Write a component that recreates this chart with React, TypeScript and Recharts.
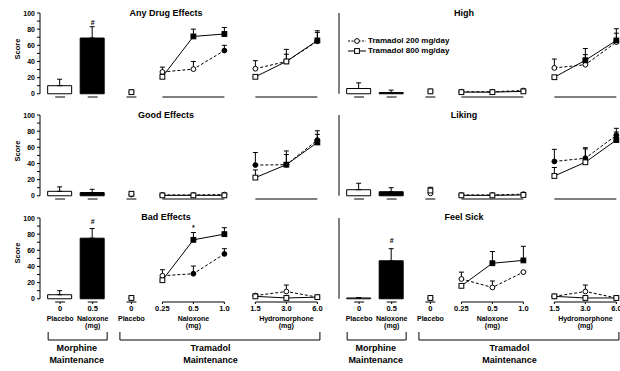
import React from "react";
import { ComposedChart, Bar, Cell, Line, XAxis, YAxis, ReferenceLine, ErrorBar, Legend } from "recharts";

const FONT = "'Liberation Sans', Arial, Helvetica, sans-serif";

// panels: left column top->bottom, then right column top->bottom
const titles = ["Any Drug Effects", "Good Effects", "Bad Effects", "High", "Liking", "Feel Sick"];

// x positions of the conditions on the broken axis
const barX = [0, 1.05];
const placeboX = 2.3;
const naloxoneX = [3.3, 4.3, 5.3];
const hydroX = [6.3, 7.3, 8.3];

const tickLabels = ["0", "0.5", "0", "0.25", "0.5", "1.0", "1.5", "3.0", "6.0"];
const tickSub1 = ["Placebo", "Naloxone", "Placebo", "", "Naloxone", "", "", "Hydromorphone", ""];
const tickSub2 = ["", "(mg)", "", "", "(mg)", "", "", "(mg)", ""];
const yTicks = [0, 10, 20, 30, 40, 50, 60, 70, 80, 90, 100];

// morphine maintenance: [placebo, naloxone 0.5 mg]
const morphineMean = [[10, 69], [5.5, 4], [5, 75], [6.5, 1.5], [7.5, 5], [1, 47]];
const morphineSem = [[8, 14], [5.5, 4], [5, 12], [7, 3], [8, 5], [0.5, 15]];

// tramadol maintenance placebo
const placebo200 = [2, 1.5, 1, 3, 3, 1];
const placebo800 = [2, 2.5, 1, 3, 6.5, 1];
const placebo800Sem = [0, 0, 0, 0, 4, 0];

// naloxone 0.25 / 0.5 / 1.0 mg
const naloxone200 = [[27, 30.5, 53.5], [1, 1, 1.5], [28.5, 31, 55.5], [2.5, 2.5, 4], [1, 1, 2], [24.5, 14, 33]];
const naloxone200Sem = [[6, 9.5, 6.5], [0, 0, 0], [7.5, 9.5, 6.5], [0, 0, 0], [0, 0, 0], [8.5, 8, 0]];
const naloxone200Sig = [[0, 0, 1], [0, 0, 0], [0, 1, 1], [0, 0, 0], [0, 0, 0], [0, 0, 0]];
const naloxone800 = [[21, 71, 74], [0.5, 0.5, 0.5], [23, 73, 80], [2, 2, 3], [0.5, 0.5, 1], [16, 44, 47.5]];
const naloxone800Sem = [[0, 9, 8], [0, 0, 0], [0, 9, 8], [0, 0, 0], [0, 0, 0], [0, 14.5, 17.5]];
const naloxone800Sig = [[0, 1, 1], [0, 0, 0], [0, 1, 1], [0, 0, 0], [0, 0, 0], [0, 1, 1]];

// hydromorphone 1.5 / 3.0 / 6.0 mg
const hydro200 = [[31, 40, 65], [38, 38.5, 69], [4, 9, 2], [32, 36, 64], [42.5, 46.5, 75], [3, 9, 1]];
const hydro200Sem = [[10, 15, 13], [15.5, 12.5, 11.5], [1.5, 8, 1], [11, 12.5, 11], [15, 13, 8.5], [0, 8, 0]];
const hydro200Sig = [[0, 0, 1], [1, 1, 1], [0, 0, 0], [0, 0, 0], [1, 1, 1], [0, 0, 0]];
const hydro800 = [[21, 40, 66], [22.5, 38.5, 66], [3, 1, 2], [20.5, 41.5, 66], [24.5, 41.5, 69], [3, 1, 1]];
const hydro800Sem = [[0, 9, 10], [9.5, 17, 10], [0, 0, 0], [0, 14.5, 14.5], [10.5, 16.5, 10], [0, 0, 0]];
const hydro800Sig = [[0, 0, 1], [0, 1, 1], [0, 0, 0], [0, 1, 1], [0, 0, 1], [0, 0, 0]];

// significance marks (# vs morphine placebo, * between tramadol doses)
const hashMark = [88, null, 96, null, null, 72];
const starMark = [null, null, 88, null, null, null];

const seriesNames = ["Tramadol 200 mg/day", "Tramadol 800 mg/day"];

const rowTop = [3, 105, 208];
const titleY = [13, 115, 217];
const txt = { fontFamily: FONT, fontWeight: 700, fill: "#000", stroke: "none", style: { fill: "#000" } } as const;

const circleDot = (filled: number[]) => (p: any) => (
  <circle key={`c${p.index}`} cx={p.cx} cy={p.cy} r={2.4} fill={filled[p.index] ? "#000" : "#fff"} stroke="#000" strokeWidth={1} />
);
const squareDot = (filled: number[]) => (p: any) => (
  <rect key={`s${p.index}`} x={p.cx - 2.4} y={p.cy - 2.4} width={4.8} height={4.8} fill={filled[p.index] ? "#000" : "#fff"} stroke="#000" strokeWidth={1} />
);
const markDot = (p: any) => (
  <text key={`m${p.index}`} x={p.cx} y={p.cy + 2.5} textAnchor="middle" fontSize={7} {...txt}>{p.payload.t}</text>
);

const XTick = (props: any) => {
  const { x, y, index } = props;
  return (
    <g opacity={0.99}>
      <text x={x} y={y + 7} textAnchor="middle" fontSize={7.5} {...txt}>{tickLabels[index]}</text>
      {tickSub1[index] && <text x={x} y={y + 16.5} textAnchor="middle" fontSize={7} {...txt}>{tickSub1[index]}</text>}
      {tickSub2[index] && <text x={x} y={y + 23.5} textAnchor="middle" fontSize={7} {...txt}>{tickSub2[index]}</text>}
      {index === 0 && (
        <g>
          <path d={`M${x - 12},${y + 28}V${y + 36}H${x + 47}V${y + 28}`} fill="none" stroke="#000" strokeWidth={1} />
          <text x={x + 16.5} y={y + 47.3} textAnchor="middle" fontSize={9} {...txt}>Morphine</text>
          <text x={x + 16.5} y={y + 59.3} textAnchor="middle" fontSize={9} {...txt}>Maintenance</text>
        </g>
      )}
      {index === 2 && (
        <g>
          <path d={`M${x - 11.5},${y + 28}V${y + 36}H${x + 188.5}V${y + 28}`} fill="none" stroke="#000" strokeWidth={1} />
          <text x={x + 79} y={y + 47.3} textAnchor="middle" fontSize={9} {...txt}>Tramadol</text>
          <text x={x + 79} y={y + 59.3} textAnchor="middle" fontSize={9} {...txt}>Maintenance</text>
        </g>
      )}
    </g>
  );
};

const YTick = ({ x, y, payload }: any) =>
  payload.value % 20 === 0 ? (
    <g opacity={0.99}>
      <text x={x} y={y + 2.5} textAnchor="end" fontSize={7} {...txt}>{payload.value}</text>
    </g>
  ) : (
    <g />
  );

const LegendBox = () => (
  <div style={{ fontFamily: FONT, fontWeight: 700, fontSize: 8, lineHeight: "10px", color: "#000" }}>
    {seriesNames.map((name, k) => (
      <div key={name} style={{ display: "flex", alignItems: "center", whiteSpace: "nowrap" }}>
        <svg width={18} height={8} style={{ marginRight: 2 }}>
          <line x1={0} y1={4} x2={18} y2={4} stroke="#000" strokeWidth={1} strokeDasharray={k === 0 ? "2 1.5" : undefined} />
          {k === 0 ? (
            <circle cx={9} cy={4} r={2.4} fill="#fff" stroke="#000" />
          ) : (
            <rect x={6.6} y={1.6} width={4.8} height={4.8} fill="#fff" stroke="#000" />
          )}
        </svg>
        {name}
      </div>
    ))}
  </div>
);

function Panel({ i, col, row }: { i: number; col: number; row: number }) {
  const bottom = row === 2;
  const left = col === 0;
  const bars = barX.map((x, j) => ({ x, v: morphineMean[i][j], err: [0, morphineSem[i][j]] }));
  const series = (xs: number[], ys: number[], es: number[]) => xs.map((x, j) => ({ x, y: ys[j], err: [0, es[j]] }));
  const nal200 = series(naloxoneX, naloxone200[i], naloxone200Sem[i]);
  const nal800 = series(naloxoneX, naloxone800[i], naloxone800Sem[i]);
  const hyd200 = series(hydroX, hydro200[i], hydro200Sem[i]);
  const hyd800 = series(hydroX, hydro800[i], hydro800Sem[i]);
  const marks: { x: number; y: number; t: string }[] = [];
  if (hashMark[i] != null) marks.push({ x: barX[1], y: hashMark[i] as number, t: "#" });
  if (starMark[i] != null) marks.push({ x: naloxoneX[1], y: starMark[i] as number, t: "*" });
  const tickX = [...barX, placeboX, ...naloxoneX, ...hydroX];
  const half = 0.16;
  const segments: [number, number][] = [
    [barX[0] - half, barX[0] + half],
    [barX[1] - half, barX[1] + half],
    [placeboX - half, placeboX + half],
    [naloxoneX[0], naloxoneX[2]],
    [hydroX[0], hydroX[2]],
  ];
  const xMin = -0.65;

  return (
    <div style={{ position: "absolute", left: left ? 0 : 300, top: rowTop[row] }}>
      <ComposedChart
        width={330}
        height={bottom ? 163 : 100}
        data={bars}
        margin={{ top: 10, right: left ? 8 : 9, left: 10, bottom: 0 }}
      >
        <XAxis
          type="number"
          dataKey="x"
          domain={[xMin, 8.45]}
          ticks={tickX}
          interval={0}
          axisLine={false}
          tickSize={2}
          tickMargin={0}
          tickLine={{ stroke: "#000" }}
          height={bottom ? 69 : 6}
          tick={bottom ? <XTick /> : false}
        />
        <YAxis
          type="number"
          domain={[-4, 100]}
          ticks={yTicks}
          interval={0}
          axisLine={false}
          tickSize={3}
          tickMargin={2}
          tickLine={{ stroke: "#000" }}
          width={left ? 30 : 29}
          tick={left ? <YTick /> : false}
        />
        <ReferenceLine segment={[{ x: xMin, y: 0 }, { x: xMin, y: 100 }]} stroke="#000" strokeWidth={1} />
        {segments.map(([a, b], k) => (
          <ReferenceLine key={k} segment={[{ x: a, y: -4 }, { x: b, y: -4 }]} stroke="#000" strokeWidth={1} />
        ))}
        <Bar dataKey="v" barSize={24} stroke="#000" strokeWidth={1} isAnimationActive={false}>
          {bars.map((_, j) => (
            <Cell key={j} fill={j === 0 ? "#fff" : "#000"} />
          ))}
          <ErrorBar dataKey="err" width={2.5} stroke="#000" strokeWidth={1} />
        </Bar>
        <Line data={nal200} dataKey="y" name={seriesNames[0]} stroke="#000" strokeWidth={1} strokeDasharray="3 2" dot={circleDot(naloxone200Sig[i])} activeDot={false} isAnimationActive={false}>
          <ErrorBar dataKey="err" width={2.5} stroke="#000" strokeWidth={1} />
        </Line>
        <Line data={hyd200} dataKey="y" name={seriesNames[0]} stroke="#000" strokeWidth={1} strokeDasharray="3 2" dot={circleDot(hydro200Sig[i])} activeDot={false} isAnimationActive={false}>
          <ErrorBar dataKey="err" width={2.5} stroke="#000" strokeWidth={1} />
        </Line>
        <Line data={nal800} dataKey="y" name={seriesNames[1]} stroke="#000" strokeWidth={1} dot={squareDot(naloxone800Sig[i])} activeDot={false} isAnimationActive={false}>
          <ErrorBar dataKey="err" width={2.5} stroke="#000" strokeWidth={1} />
        </Line>
        <Line data={hyd800} dataKey="y" name={seriesNames[1]} stroke="#000" strokeWidth={1} dot={squareDot(hydro800Sig[i])} activeDot={false} isAnimationActive={false}>
          <ErrorBar dataKey="err" width={2.5} stroke="#000" strokeWidth={1} />
        </Line>
        <Line data={[{ x: placeboX, y: placebo200[i] }]} dataKey="y" stroke="none" dot={circleDot([0])} activeDot={false} isAnimationActive={false} />
        <Line data={[{ x: placeboX, y: placebo800[i], err: [0, placebo800Sem[i]] }]} dataKey="y" stroke="none" dot={squareDot([0])} activeDot={false} isAnimationActive={false}>
          {placebo800Sem[i] > 0 && <ErrorBar dataKey="err" width={2.5} stroke="#000" strokeWidth={1} />}
        </Line>
        {marks.length > 0 && (
          <Line data={marks} dataKey="y" stroke="none" dot={markDot} activeDot={false} isAnimationActive={false} />
        )}
        {i === 3 && (
          <Legend
            layout="vertical"
            align="center"
            verticalAlign="middle"
            content={() => <LegendBox />}
            wrapperStyle={{ left: 48, top: 33, width: 140, height: 22 }}
          />
        )}
      </ComposedChart>
    </div>
  );
}

const panels = [
  { i: 0, col: 0, row: 0 },
  { i: 1, col: 0, row: 1 },
  { i: 2, col: 0, row: 2 },
  { i: 3, col: 1, row: 0 },
  { i: 4, col: 1, row: 1 },
  { i: 5, col: 1, row: 2 },
];

export default function App() {
  return (
    <div style={{ position: "absolute", left: 0, top: 0, width: 620, height: 371, overflow: "hidden", background: "#fff", fontFamily: FONT }}>
      {panels.map((p) => (
        <Panel key={p.i} {...p} />
      ))}
      {panels.map((p) => (
        <div
          key={`t${p.i}`}
          style={{
            position: "absolute",
            left: p.col === 0 ? 166 : 464,
            top: titleY[p.row] - 6,
            transform: "translateX(-50%)",
            fontSize: 9,
            fontWeight: 700,
            lineHeight: "12px",
            whiteSpace: "nowrap",
          }}
        >
          {titles[p.i]}
        </div>
      ))}
      {[0, 1, 2].map((r) => (
        <div
          key={`s${r}`}
          style={{
            position: "absolute",
            left: 18,
            top: titleY[r] + 36,
            transform: "translate(-50%, -50%) rotate(-90deg)",
            fontSize: 7.5,
            fontWeight: 700,
            lineHeight: "10px",
          }}
        >
          Score
        </div>
      ))}
    </div>
  );
}
